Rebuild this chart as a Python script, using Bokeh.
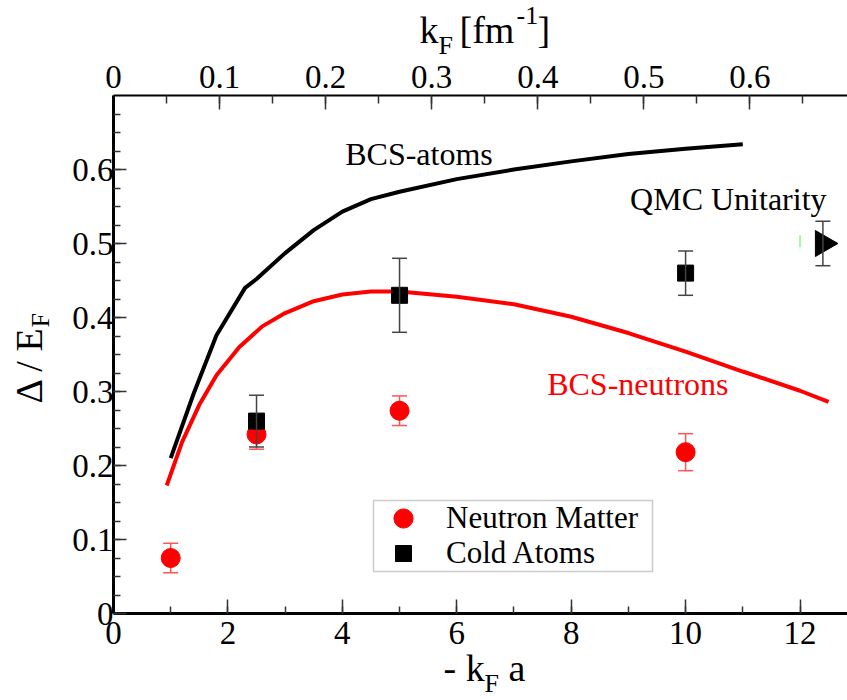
import math
from bokeh.plotting import figure
from bokeh.models import (Range1d, LinearAxis, SingleIntervalTicker, Whisker, TeeHead,
                          ColumnDataSource, Label, Legend, LegendItem, BoxAnnotation)
from bokeh.core.properties import value
from bokeh.embed import file_html
from bokeh.resources import INLINE

FONT = "Liberation Serif"

# ---------------- data ----------------
bcs_atoms_x = [1.0, 1.4, 1.8, 2.3, 2.5, 3.0, 3.5, 4.0, 4.5, 5.0, 6.0, 7.0, 8.0, 9.0, 10.0, 11.0]
bcs_atoms_y = [0.21, 0.297, 0.376, 0.44, 0.452, 0.487, 0.518, 0.543, 0.560, 0.570, 0.587, 0.600,
               0.611, 0.621, 0.628, 0.634]

bcs_neutrons_x = [0.93, 1.2, 1.5, 1.8, 2.2, 2.6, 3.0, 3.5, 4.0, 4.5, 5.0, 6.0, 7.0, 8.0, 9.0,
                  10.0, 11.0, 12.0, 12.5]
bcs_neutrons_y = [0.173, 0.232, 0.282, 0.322, 0.360, 0.388, 0.406, 0.422, 0.431, 0.435, 0.435,
                  0.428, 0.418, 0.401, 0.379, 0.354, 0.327, 0.301, 0.286]

neutron_x = [1.0, 2.5, 5.0, 10.0]
neutron_y = [0.075, 0.242, 0.274, 0.218]
neutron_err = [0.02, 0.02, 0.02, 0.025]

atoms_x = [2.5, 5.0, 10.0]
atoms_y = [0.26, 0.43, 0.46]
atoms_err = [0.035, 0.05, 0.03]

qmc_x = [12.4]
qmc_y = [0.50]
qmc_err = [0.03]

green_x = [12.0]
green_lo = [0.495]
green_hi = [0.511]

x_ticks_interval = 2
y_ticks_interval = 0.1
top_ticks_interval = 0.1

# text annotations (data coordinates of the baseline start)
label_texts = ["BCS-atoms", "QMC Unitarity", "BCS-neutrons"]
label_x = [4.05, 9.03, 7.58]
label_y = [0.606, 0.545, 0.295]
label_colors = ["black", "black", "red"]

# ---------------- geometry ----------------
W, H = 847, 700
B_LEFT, B_TOP, B_BOTTOM = 113, 95, 87
X_MAX, Y_MAX, TOP_MAX = 12.83, 0.7, 0.692
FRAME_W = W - B_LEFT
FRAME_H = H - B_TOP - B_BOTTOM
FRAME_B = H - B_BOTTOM
BASE_FIX = 0.35   # renderer draws "alphabetic" text this many font-sizes lower


def page_to_data(px, py):
    return (px - B_LEFT) * X_MAX / FRAME_W, (FRAME_B - py) * Y_MAX / FRAME_H


p = figure(width=W, height=H,
           x_range=Range1d(0, X_MAX), y_range=Range1d(0, Y_MAX),
           output_backend="svg", toolbar_location=None,
           x_axis_location=None, y_axis_location=None,
           min_border_left=B_LEFT, min_border_right=0,
           min_border_top=B_TOP, min_border_bottom=B_BOTTOM)
p.extra_x_ranges = {"top": Range1d(0, TOP_MAX)}
p.xgrid.visible = False
p.ygrid.visible = False
p.outline_line_color = None
p.background_fill_color = "white"
p.border_fill_color = "white"


def style_axis(ax, major_in, minor_in, standoff, width=2.5):
    ax.axis_line_color = "black"
    ax.axis_line_width = width
    ax.major_tick_in = major_in
    ax.major_tick_out = 0
    ax.minor_tick_in = minor_in
    ax.minor_tick_out = 0
    ax.major_tick_line_color = "#333333"
    ax.major_tick_line_width = 1.5
    ax.minor_tick_line_color = "#333333"
    ax.minor_tick_line_width = 1.5
    ax.major_label_standoff = standoff
    ax.major_label_text_font = FONT
    ax.major_label_text_font_size = "33px"
    ax.major_label_text_color = "black"
    ax.major_label_overrides = {0: "0"}


bottom = LinearAxis(ticker=SingleIntervalTicker(interval=x_ticks_interval, num_minor_ticks=2))
style_axis(bottom, 14, 7, 8, width=3)
p.add_layout(bottom, "below")

left = LinearAxis(ticker=SingleIntervalTicker(interval=y_ticks_interval, num_minor_ticks=4))
style_axis(left, 13, 7, 0, width=3)
p.add_layout(left, "left")

top = LinearAxis(x_range_name="top",
                 ticker=SingleIntervalTicker(interval=top_ticks_interval, num_minor_ticks=2))
style_axis(top, 14, 8, 8, width=2)
p.add_layout(top, "above")

# ---------------- curves ----------------
p.line(bcs_atoms_x, bcs_atoms_y, line_color="black", line_width=4)
p.line(bcs_neutrons_x, bcs_neutrons_y, line_color="red", line_width=4)

# ---------------- points with error bars ----------------
def err_src(xs, ys, es):
    return ColumnDataSource(dict(x=xs, y=ys,
                                 lo=[a - b for a, b in zip(ys, es)],
                                 hi=[a + b for a, b in zip(ys, es)]))


nm_src = err_src(neutron_x, neutron_y, neutron_err)
ca_src = err_src(atoms_x, atoms_y, atoms_err)
qmc_src = err_src(qmc_x, qmc_y, qmc_err)

red_err = "#ff5555"
gray_err = "#444444"
p.add_layout(Whisker(base="x", lower="lo", upper="hi", source=nm_src, dimension="height",
                     line_color=red_err, line_width=1.5,
                     upper_head=TeeHead(size=15, line_color=red_err, line_width=1.5),
                     lower_head=TeeHead(size=15, line_color=red_err, line_width=1.5)))

r_nm = p.scatter("x", "y", source=nm_src, marker="circle", size=19,
                 fill_color="red", line_color="red")
r_ca = p.scatter("x", "y", source=ca_src, marker="square", size=16,
                 fill_color="black", line_color="black")
p.scatter("x", "y", source=qmc_src, marker="triangle", size=26, angle=-math.pi / 2,
          fill_color="black", line_color="black")

for src in (ca_src, qmc_src):
    p.add_layout(Whisker(base="x", lower="lo", upper="hi", source=src, dimension="height",
                         line_color=gray_err, line_width=1.5, level="annotation",
                         upper_head=TeeHead(size=15, line_color=gray_err, line_width=1.5),
                         lower_head=TeeHead(size=15, line_color=gray_err, line_width=1.5)))

p.segment(x0=green_x, y0=green_lo, x1=green_x, y1=green_hi,
          line_color="#80ff80", line_width=1.5)

# ---------------- text annotations ----------------
LABEL_FS = 32
for t, x, y, c in zip(label_texts, label_x, label_y, label_colors):
    p.add_layout(Label(x=x, y=y, text=t, text_font=FONT, text_font_size=f"{LABEL_FS}px",
                       y_offset=BASE_FIX * LABEL_FS,
                       text_color=c, text_baseline="alphabetic", text_align="left"))

# ---------------- axis titles (text glyphs outside the frame, overlay level) --------------
# (text, page x, page y of the baseline start, font size px, rotated)
title_pieces = [
    ("- k", 443, 681, 38, False),
    ("F", 484, 692, 26, False),
    ("a", 508, 681, 38, False),
    ("k", 419, 43, 38, False),
    ("F", 438, 54, 26, False),
    ("[fm", 459, 43, 38, False),
    ("-1", 516, 24, 26, False),
    ("]", 537, 43, 38, False),
    ("Δ / E", 42, 403, 38, True),
    ("F", 49, 327, 26, True),
]
for text, px, py, fs, rot in title_pieces:
    if rot:
        px -= BASE_FIX * fs
    else:
        py -= BASE_FIX * fs
    dx, dy = page_to_data(px, py)
    p.text(x=[dx], y=[dy], text=[text], angle=math.pi / 2 if rot else 0.0,
           text_font=value(FONT), text_font_size=value(f"{fs}px"), text_color="black",
           text_baseline="alphabetic", text_align="left", level="overlay")

# ---------------- legend (box + one legend per entry, to size each marker) ----------------
box_l, box_r, box_b, box_t = 260, 539, 42, 113   # screen px relative to frame bottom-left
p.add_layout(BoxAnnotation(left=box_l, right=box_r, bottom=box_b, top=box_t,
                           left_units="screen", right_units="screen",
                           bottom_units="screen", top_units="screen",
                           fill_color="white", fill_alpha=1.0,
                           line_color="#555555", line_width=1.5))

legend_common = dict(orientation="vertical", padding=0, margin=0, spacing=0,
                     glyph_width=60, label_standoff=13,
                     label_text_font=FONT, label_text_font_size="31px",
                     label_text_color="black",
                     border_line_color=None, background_fill_alpha=0.0)
leg1 = Legend(items=[LegendItem(label="Neutron Matter", renderers=[r_nm])],
              location=(box_l, 71), glyph_height=48, label_height=48, **legend_common)
leg2 = Legend(items=[LegendItem(label="Cold Atoms", renderers=[r_ca])],
              location=(box_l, 40), glyph_height=40, label_height=40, **legend_common)
p.add_layout(leg1)
p.add_layout(leg2)

open("out.html", "w").write(file_html(p, INLINE))
